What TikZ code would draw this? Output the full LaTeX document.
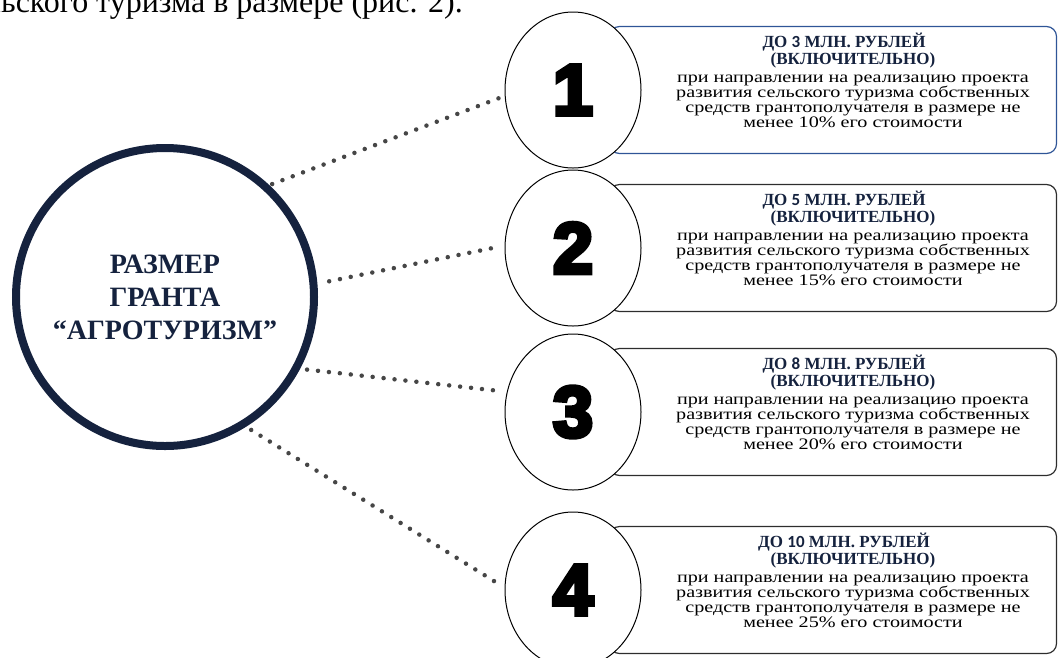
\documentclass[tikz,border=0pt]{standalone}
\usepackage{fontspec}
\setmainfont{Liberation Serif}
\newfontfamily\digitfont{Liberation Sans Bold}[FakeBold=6]
\newfontfamily\numfont{Carlito}
\newfontfamily\bodyfont{Liberation Serif}[FakeStretch=1.26]
\usetikzlibrary{shapes.geometric}
\definecolor{grantnavy}{RGB}{21,34,62}
\definecolor{boxblue}{RGB}{47,85,151}
\definecolor{boxgray}{RGB}{45,45,45}
\definecolor{dotgray}{RGB}{70,70,70}
\newcommand{\boxhead}[1]{\textcolor{grantnavy}{\rmfamily\bfseries\fontsize{17}{16}\selectfont #1}\hspace*{18pt}}
\begin{document}
\setlength{\lineskiplimit}{-20pt}
\begin{tikzpicture}[x=1pt, y=-1pt,
	grant/.style={circle, draw=grantnavy, line width=8pt, minimum size=298pt, fill=white, text=grantnavy, align=center, font=\bfseries\fontsize{28}{33}\selectfont},
	numball/.style={ellipse, draw=black, line width=1pt, fill=white, minimum width=136pt, minimum height=156pt, inner sep=0pt, font=\digitfont\fontsize{72}{72}\selectfont},
	infobox/.style={rectangle, rounded corners=10pt, line width=1.2pt, minimum width=447pt, minimum height=127pt},
	infotext/.style={align=center, inner sep=0pt, font=\bodyfont\fontsize{16}{15}\selectfont},
	dotlink/.style={draw=dotgray, line width=4.5pt, line cap=round, dash pattern=on 0pt off 11pt}]
	\useasboundingbox (0,0) rectangle (1059,657);
	\clip (0,0) rectangle (1059,657);
	\node[anchor=base east, inner sep=0pt, font=\fontsize{32}{32}\selectfont] (cut) at (463,12) {сельского туризма в размере (рис. 2).};
	\foreach \i/\yc/\sum/\pct/\edge in {1/90/3/10/boxblue, 2/248/5/15/boxgray, 3/412/8/20/boxgray, 4/590/10/25/boxgray} {
		\node[infobox, draw=\edge] (box\i) at (833,\yc) {};
		\node[infotext] (txt\i) at (853,\yc-10) {\boxhead{ДО {\numfont\bfseries\sum} МЛН. РУБЛЕЙ}\\[2pt]
			\boxhead{(ВКЛЮЧИТЕЛЬНО)}\\[3pt]
			при направлении на реализацию проекта\\
			развития сельского туризма собственных\\
			средств грантополучателя в размере не\\
			менее \pct\% его стоимости};
		\node[numball] (n\i) at (573,\yc) {\i};
	}
	\node[grant] (grant) at (165,297) {РАЗМЕР\\ГРАНТА\\“АГРОТУРИЗМ”};
	\foreach \i/\a/\b/\s in {1/47/185/3, 2/5/178/12, 3/-28/163/7, 4/-58/178/6}
		\draw[dotlink, shorten <=\s pt, shorten >=6pt] (grant.\a) -- (n\i.\b);
\end{tikzpicture}
\end{document}
